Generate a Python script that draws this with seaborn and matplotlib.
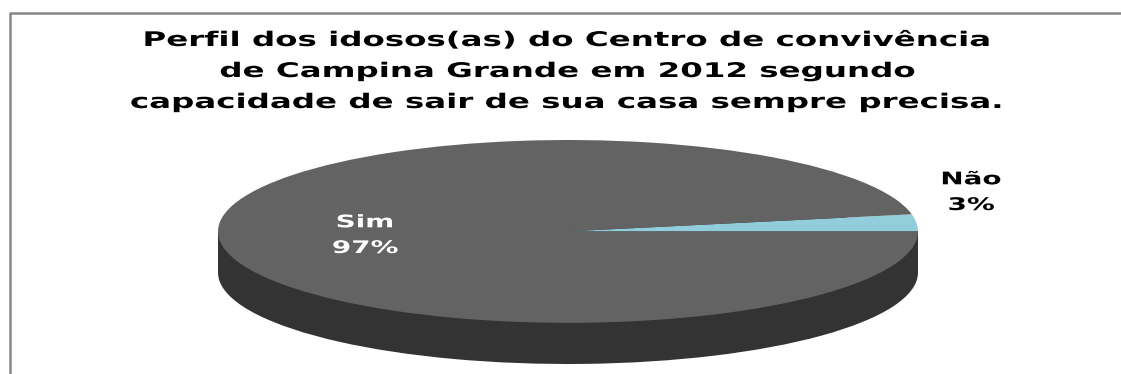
import matplotlib
matplotlib.use("Agg")
import matplotlib.pyplot as plt
from matplotlib.lines import Line2D
from matplotlib.patches import Rectangle
from matplotlib.patheffects import AbstractPathEffect
from matplotlib.transforms import Affine2D
import seaborn as sns

categories = ["Não", "Sim"]
values = [3, 97]
title_lines = [
    "Perfil dos idosos(as) do Centro de convivência",
    "de Campina Grande em 2012 segundo",
    "capacidade de sair de sua casa sempre precisa.",
]

W, H = 1121, 374
TOP_COLORS = ["#92CDDC", "#636363"]
WALL_COLOR = "#333333"
FRAME_COLOR = "#868686"
DEPTH = 0.45  # wall height of the 3D disc, in radii of the vertical axis
STRETCH = 1.67  # horizontal widening of the lettering


class WideText(AbstractPathEffect):
    """Widens glyph outlines about a fixed x position in pixels."""

    def __init__(self, center_x, factor):
        super().__init__()
        self.center_x = center_x
        self.factor = factor

    def draw_path(self, renderer, gc, tpath, affine, rgbFace=None):
        widen = (Affine2D().translate(-self.center_x, 0)
                 .scale(self.factor, 1).translate(self.center_x, 0))
        renderer.draw_path(gc, tpath, affine + widen, rgbFace)


sns.set_theme(style="white")
plt.rcParams["font.family"] = ["DejaVu Sans"]

fig = plt.figure(figsize=(W / 100, H / 100), dpi=100, facecolor="white")

# Disc occupies x 218..918, top face y 140..322, wall down to y 364
left, right, top, bottom = 218, 918, 140, 364
ax = fig.add_axes([left / W, 1 - bottom / H, (right - left) / W, (bottom - top) / H])

no_edge = {"edgecolor": "none", "linewidth": 0}

# Wall: a darker copy of the pie shifted down, joined by a rectangle
ax.pie(values, colors=[WALL_COLOR, WALL_COLOR], radius=1, center=(0, -DEPTH),
       startangle=0, frame=False, wedgeprops=no_edge)
ax.add_patch(Rectangle((-1, -DEPTH), 2, DEPTH, facecolor=WALL_COLOR, edgecolor="none"))

# Top face: the first slice starts at angle 0 and runs counter-clockwise
ax.pie(values, colors=TOP_COLORS, radius=1, center=(0, 0), startangle=0, frame=False,
       wedgeprops=no_edge)

ax.set_aspect("auto")
ax.set_xlim(-1, 1)
ax.set_ylim(-1 - DEPTH, 1)
ax.axis("off")

# Chart frame: top and left edges only
fig.add_artist(Line2D([10 / W, 10 / W, 1], [0, 1 - 13 / H, 1 - 13 / H],
                      color=FRAME_COLOR, lw=1.8, transform=fig.transFigure))

for line, y in zip(title_lines, [46, 77, 108]):
    fig.text(568 / W, 1 - y / H, line, ha="center", va="baseline",
             fontsize=14.5, fontweight="bold", color="black",
             path_effects=[WideText(568, STRETCH * 14 / 14.5)])

labels = [
    (971, 210, f"{categories[0]}\n{values[0]}%", "black"),
    (365, 253, f"{categories[1]}\n{values[1]}%", "white"),
]
for x, y, text, color in labels:
    fig.text(x / W, 1 - y / H, text, ha="center", va="baseline", fontsize=12.5,
             fontweight="bold", color=color, linespacing=1.55,
             path_effects=[WideText(x, STRETCH * 12 / 12.5)])

fig.savefig("out.png", dpi=100, facecolor="white")
